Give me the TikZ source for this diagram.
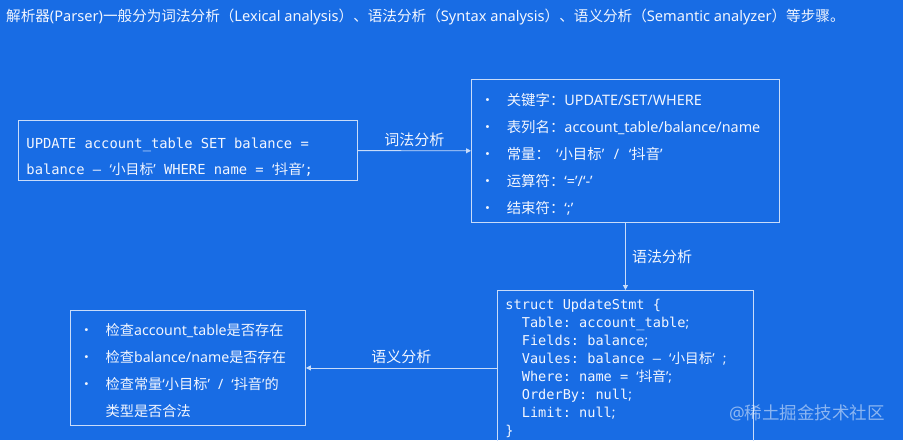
\documentclass[tikz,border=0pt]{standalone}
\usepackage{fontspec}
\setmainfont{Noto Sans CJK SC}
\newfontfamily\latin{Noto Sans}
\newfontfamily\code{DejaVu Sans Mono}
\newfontfamily\cjk{Noto Sans CJK SC}
\usetikzlibrary{arrows.meta}
\pgfdeclarelayer{bg}
\pgfsetlayers{bg,main}
\definecolor{bgblue}{RGB}{24,108,228}
\definecolor{rule}{RGB}{200,220,250}
\definecolor{ink}{RGB}{242,246,255}
\tikzset{
  box/.style={draw=rule, line width=0.9pt, text=ink, align=left, anchor=north west, inner ysep=0pt},
  flow/.style={draw=rule, line width=0.9pt, -{Triangle[width=5pt,length=5pt]}},
  tag/.style={text=ink, font=\fontsize{15}{17}\selectfont},
}
\newcommand{\zh}[1]{{\cjk #1}}
\newcommand{\en}[1]{{\latin #1}}
\newcommand{\qq}[1]{\en{‘}\zh{#1}\en{’}}
\newcommand{\sk}{\hspace{0.602em}}
\newcommand{\ind}{\hspace*{1.204em}}
\newcommand{\itm}{\textbullet}
\newcommand{\down}[2]{\raisebox{-#1}[\height][\depth]{#2}}

\begin{document}
\begin{tikzpicture}[x=1pt, y=-1pt]
        \clip (0,0) rectangle (903,440);
        \begin{pgfonlayer}{bg}
                \fill[bgblue] (0,0) rectangle (903,440);
        \end{pgfonlayer}
        \node (title) [anchor=west, text=ink, font=\fontsize{14.6}{16}\selectfont, inner sep=0pt] at (6,17) {解析器\en{(Parser)}一般分为词法分析（\en{Lexical analysis}）、语法分析（\en{Syntax analysis}）、语义分析（\en{Semantic analyzer}）等步骤。};
        \node (sql) [box, minimum width=339, minimum height=60, text width=323, inner xsep=8, font=\code\fontsize{13.8}{26}\selectfont] at (18,120) {\down{6pt}{\begin{tabular}{@{}l@{}}
                UPDATE\sk account\_table\sk SET\sk balance\sk =\\
                balance\sk –\sk \qq{小目标}\sk WHERE\sk name\sk =\sk \qq{抖音};
        \end{tabular}}};
        \node (tok) [box, minimum width=308, minimum height=143, text width=290, inner xsep=9, font=\fontsize{14.4}{27}\selectfont] at (471,79) {\down{3pt}{\begin{tabular}{@{}l@{\hspace{12pt}}l@{}}
                \itm & 关键字：\en{UPDATE/SET/WHERE}\\
                \itm & 表列名：\en{account\_table/balance/name}\\
                \itm & 常量：\hspace{6pt}\qq{小目标}\en{\ \ /\ \ }\qq{抖音}\\
                \itm & 运算符：\en{‘=’/‘-’}\\
                \itm & 结束符：\en{‘;’}
        \end{tabular}}};
        \node (stmt) [box, minimum width=256, minimum height=155, text width=240, inner xsep=8, font=\code\fontsize{13.6}{18}\selectfont] at (497,290) {\down{1pt}{\begin{tabular}{@{}l@{}}
                struct\sk UpdateStmt\sk \{\\
                \ind Table:\sk account\_table\en{;}\\
                \ind Fields:\sk balance\en{;}\\
                \ind Vaules:\sk balance\sk –\sk \qq{小目标}\sk \en{;}\\
                \ind Where:\sk name\sk =\sk \qq{抖音}\en{;}\\
                \ind OrderBy:\sk null\en{;}\\
                \ind Limit:\sk null\en{;}\\
                \}
        \end{tabular}}};
        \node (chk) [box, minimum width=235, minimum height=115, text width=217, inner xsep=9, font=\fontsize{14.2}{27}\selectfont] at (70,310) {\down{3pt}{\begin{tabular}{@{}l@{\hspace{12pt}}l@{}}
                \itm & 检查\en{account\_table}是否存在\\
                \itm & 检查\en{balance/name}是否存在\\
                \itm & 检查常量\qq{小目标}\hspace{8pt}\en{/}\hspace{8pt}\qq{抖音}的\\
                     & 类型是否合法
        \end{tabular}}};
        \node (mark) [text=white, opacity=0.5, font=\fontsize{17.5}{19}\selectfont, inner sep=0pt] at (807,413) {\en{@}稀土掘金技术社区};
        \begin{pgfonlayer}{bg}
                \draw (sql) edge [flow] node [tag, above] {词法分析} (tok);
                \draw (tok) edge [flow] node [tag, right, xshift=3] {语法分析} (stmt);
                \draw (stmt) edge [flow] node [tag, above] {语义分析} (chk);
        \end{pgfonlayer}
\end{tikzpicture}
\end{document}
